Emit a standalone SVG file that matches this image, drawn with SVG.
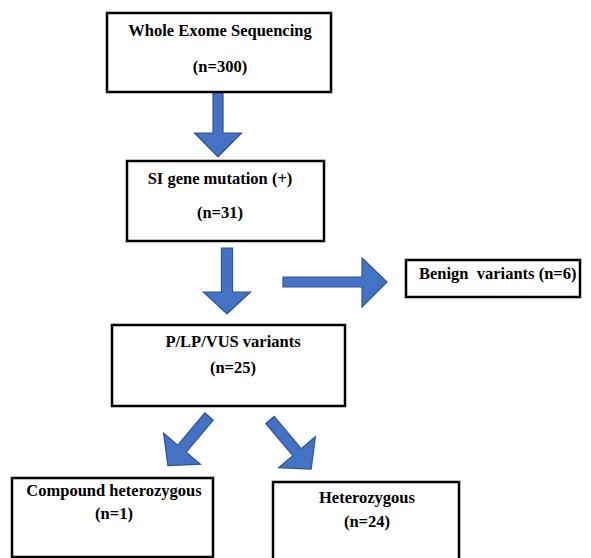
<svg xmlns="http://www.w3.org/2000/svg" width="591" height="558" viewBox="0 0 591 558">
<style>
.box{fill:#fff;stroke:#000;stroke-width:2.5}
.arr{fill:#4472C4;stroke:#2F528F;stroke-width:1.2;stroke-linejoin:miter}
text{font-family:"Liberation Serif","Times New Roman",serif;font-weight:bold;font-size:16.5px;fill:#000}
.c{text-anchor:middle}
</style>
<defs>
<polygon id="diag" points="0,-5.5 42,-5.5 42,-24 64,0 42,24 42,5.5 0,5.5"/>
</defs>
<rect width="591" height="558" fill="#fff"/>
<g id="connectors">
<polygon class="arr" points="213,92 223,92 223,133 241.5,133 218,157 194.5,133 213,133"/>
<polygon class="arr" points="221.5,248 232.5,248 232.5,292 250.5,292 227,314 203.5,292 221.5,292"/>
<polygon class="arr" points="283,277 362,277 362,258 387,282 362,307 362,287 283,287"/>
<use href="#diag" class="arr" transform="translate(209,416.5) rotate(130)"/>
<use href="#diag" class="arr" transform="translate(270,420) rotate(50)"/>
</g>
<g id="wes">
<rect class="box" x="107" y="13" width="224" height="79"/>
<text class="c" x="220" y="36">Whole Exome Sequencing</text>
<text class="c" x="220" y="72">(n=300)</text>
</g>
<g id="si">
<rect class="box" x="127" y="161" width="197" height="80"/>
<text class="c" x="220" y="184">SI gene mutation (+)</text>
<text class="c" x="220" y="218">(n=31)</text>
</g>
<g id="benign">
<rect class="box" x="406" y="260" width="174" height="37"/>
<text x="419" y="279" xml:space="preserve">Benign  variants (n=6)</text>
</g>
<g id="plp">
<rect class="box" x="112" y="325" width="233" height="81"/>
<text class="c" x="233" y="347">P/LP/VUS variants</text>
<text class="c" x="233" y="373">(n=25)</text>
</g>
<g id="compound">
<rect class="box" x="12" y="478" width="201" height="79"/>
<text class="c" x="114" y="496">Compound heterozygous</text>
<text class="c" x="114" y="519">(n=1)</text>
</g>
<g id="hetero">
<rect class="box" x="273" y="482" width="186" height="90"/>
<text class="c" x="367" y="503">Heterozygous</text>
<text class="c" x="367" y="527">(n=24)</text>
</g>
</svg>
